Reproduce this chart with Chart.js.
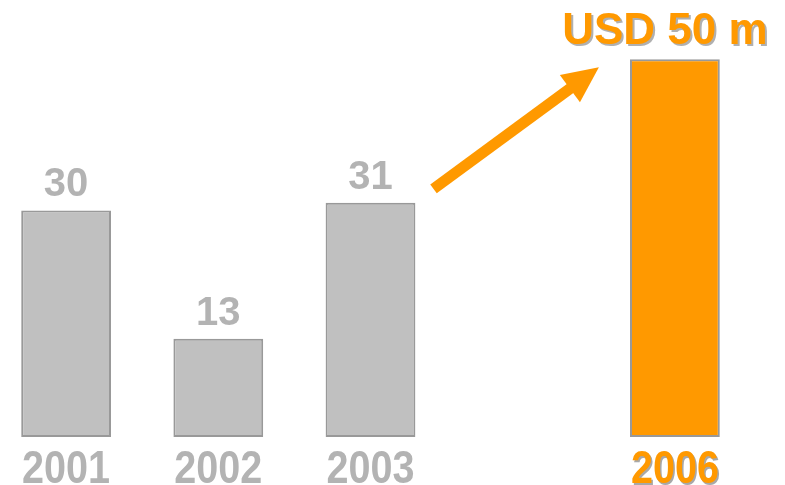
<!DOCTYPE html>
<html>
<head>
<meta charset="utf-8">
<script src="https://cdn.jsdelivr.net/npm/chart.js@4.4.1/dist/chart.umd.min.js"></script>
<style>
  html, body { margin: 0; padding: 0; background: #fff; overflow: hidden; }
  #wrap { position: absolute; left: -10px; top: 0; width: 805px; height: 485px; }
</style>
</head>
<body>
<div id="wrap"><canvas id="chart"></canvas></div>
<script>
// Revenue by year (USD m); the empty slot keeps the gap before 2006
const years = ['2001', '2002', '2003', '', '2006'];
const revenue = [30, 13, 31, null, 50];
const valueLabels = ['30', '13', '31', '', 'USD 50 m'];

const GREY = '#c0c0c0';
const GREY_EDGE = '#999999';
const GREY_TEXT = '#b3b3b3';
const ORANGE = '#ff9900';

const isHighlight = i => i === years.length - 1;

// value labels, year labels and the growth arrow, all placed from the bar elements/scales
const annotate = {
  id: 'annotate',
  afterDatasetsDraw(chart) {
    const ctx = chart.ctx;
    const meta = chart.getDatasetMeta(0);
    const yScale = chart.scales.y;
    const xScale = chart.scales.x;
    const base = yScale.getPixelForValue(0);

    ctx.save();
    meta.data.forEach((bar, i) => {
      if (revenue[i] == null) return;
      const hl = isHighlight(i);

      // value above bar
      ctx.font = hl ? 'bold 44px "Liberation Sans", Arial, sans-serif'
                    : 'bold 40px "Liberation Sans", Arial, sans-serif';
      ctx.textAlign = 'center';
      ctx.textBaseline = 'alphabetic';
      const vx = hl ? bar.x - 10 : bar.x;
      const vy = hl ? bar.y - 15 : bar.y - 14;
      if (hl) {
        ctx.fillStyle = '#b0b0b0';
        ctx.fillText(valueLabels[i], vx + 2, vy + 2);
        ctx.fillStyle = ORANGE;
      } else {
        ctx.fillStyle = GREY_TEXT;
      }
      ctx.fillText(valueLabels[i], vx, vy);

      // year under bar (condensed bold)
      ctx.save();
      ctx.translate(bar.x, base + 46);
      ctx.scale(0.86, 1);
      ctx.font = 'bold 46px "Liberation Sans", Arial, sans-serif';
      if (hl) {
        ctx.fillStyle = '#a8a8a8';
        ctx.fillText(years[i], 2, 2);
        ctx.fillStyle = ORANGE;
      } else {
        ctx.fillStyle = GREY_TEXT;
      }
      ctx.fillText(years[i], 0, 0);
      ctx.restore();
    });

    // arrow from the 2003 bar towards the 2006 bar
    const x0 = xScale.getPixelForValue(2) + 63;
    const y0 = yScale.getPixelForValue(revenue[2]) - 14;
    const x1 = xScale.getPixelForValue(4) - 76;
    const y1 = yScale.getPixelForValue(revenue[4]) + 8;
    const ang = Math.atan2(y1 - y0, x1 - x0);
    const headLen = 36, headHalf = 17;
    const bx = x1 - headLen * Math.cos(ang);
    const by = y1 - headLen * Math.sin(ang);

    ctx.strokeStyle = ORANGE;
    ctx.fillStyle = ORANGE;
    ctx.lineWidth = 11;
    ctx.lineCap = 'butt';
    ctx.beginPath();
    ctx.moveTo(x0, y0);
    ctx.lineTo(bx + 2 * Math.cos(ang), by + 2 * Math.sin(ang));
    ctx.stroke();

    ctx.beginPath();
    ctx.moveTo(x1, y1);
    ctx.lineTo(bx + headHalf * Math.sin(ang), by - headHalf * Math.cos(ang));
    ctx.lineTo(bx - headHalf * Math.sin(ang), by + headHalf * Math.cos(ang));
    ctx.closePath();
    ctx.fill();
    ctx.restore();
  },
};

new Chart(document.getElementById('chart'), {
  type: 'bar',
  data: {
    labels: years,
    datasets: [{
      data: revenue,
      backgroundColor: years.map((_, i) => isHighlight(i) ? ORANGE : GREY),
      borderColor: GREY_EDGE,
      borderWidth: 2,
      borderSkipped: false,
      categoryPercentage: 1,
      barPercentage: 0.59,
    }],
  },
  options: {
    responsive: true,
    maintainAspectRatio: false,
    animation: false,
    layout: { padding: { left: 0, right: 44, top: 14, bottom: 48 } },
    scales: {
      x: { display: false, offset: true },
      y: { display: false, min: 0, max: 56 },
    },
    plugins: {
      legend: { display: false },
      tooltip: { enabled: false },
    },
  },
  plugins: [annotate],
});
</script>
</body>
</html>
